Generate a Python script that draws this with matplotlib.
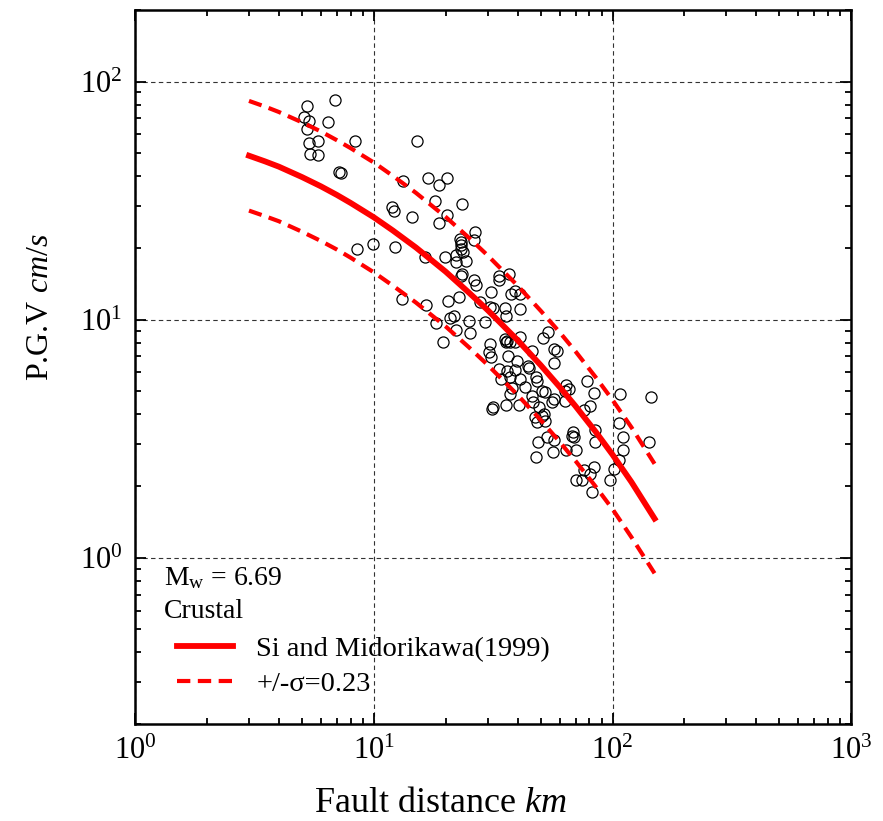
import matplotlib
matplotlib.use("Agg")
from matplotlib import pyplot as plt
from matplotlib.lines import Line2D

plt.rcParams['font.family'] = ['Liberation Serif', 'DejaVu Serif']
plt.rcParams['mathtext.fontset'] = 'custom'
plt.rcParams['mathtext.rm'] = 'Liberation Serif'
plt.rcParams['mathtext.it'] = 'Liberation Serif:italic'

# observed records: fault distance (km) and PGV (cm/s)
obs_dist = [5.23, 6.89, 5.11, 5.36, 6.41, 5.26, 5.35, 5.83, 8.31, 5.40, 5.83, 7.16, 7.31,
            15.2, 13.2, 11.9, 12.2, 14.5, 8.50, 9.92, 12.3,
            16.9, 18.7, 20.3, 18.1, 23.4, 20.2, 18.7, 26.6, 26.2, 23.0, 23.2, 23.3, 23.1,
            23.7, 22.1, 22.1, 19.95, 24.3, 16.4, 23.5, 23.2, 26.3, 26.8, 33.5, 33.6, 36.7,
            30.9, 37.4, 39.1, 40.8, 13.1, 16.6, 20.5, 22.7, 27.9, 30.7, 31.6, 35.5, 41.1,
            20.9, 21.7, 18.2, 25.0, 29.3, 35.9, 22.0, 25.2, 19.5, 30.7, 35.6, 36.3, 35.9,
            37.3, 39.1, 41.1, 30.5, 30.9, 36.6, 39.8, 46.1, 53.7, 51.2, 57.0, 58.6, 57.0,
            33.3, 36.1, 37.3, 39.1, 44.1, 44.5, 34.1, 41.1, 47.9, 48.3, 38.0, 43.2, 37.3,
            46.0, 50.7, 52.3, 56.7, 55.8, 64.1, 65.5, 63.4, 31.2, 31.7, 35.9, 40.7, 49.4,
            47.5, 50.7, 51.8, 52.3, 48.3, 68.3, 67.7, 68.7, 48.9, 53.2, 56.7, 56.1, 63.6,
            47.6, 78.2, 83.4, 107.2, 145.2, 80.8, 76.2, 63.4, 46.4, 84.2, 106.2, 110.8,
            84.5, 141.9, 70.4, 110.4, 106.2, 83.9, 76.2, 80.2, 101.2, 97.3, 70.6, 74.6, 82.1]
obs_pgv = [79.3, 83.8, 71.3, 68.1, 67.9, 62.9, 55.4, 56.5, 56.0, 49.5, 49.3, 41.6, 41.3,
           56.1, 38.1, 29.8, 28.7, 26.9, 19.8, 20.7, 20.2,
           39.2, 36.8, 39.4, 31.5, 30.6, 27.4, 25.5, 23.4, 21.7, 21.8, 21.1, 20.5, 19.8,
           19.2, 18.6, 17.4, 18.3, 17.6, 18.4, 15.6, 15.2, 14.7, 14.0, 15.2, 14.6, 15.6,
           13.0, 12.8, 13.2, 12.8, 12.2, 11.5, 12.0, 12.5, 11.8, 11.3, 11.2, 11.2, 11.1,
           10.2, 10.4, 9.69, 9.90, 9.74, 10.4, 9.05, 8.82, 8.08, 7.91, 8.30, 8.16, 8.03,
           8.03, 8.03, 8.43, 7.29, 6.94, 7.06, 6.73, 7.36, 8.91, 8.38, 7.53, 7.41, 6.60,
           6.21, 6.11, 5.76, 6.15, 6.41, 6.27, 5.63, 5.63, 5.72, 5.54, 5.16, 5.23, 4.87,
           4.79, 5.03, 4.95, 4.64, 4.49, 5.33, 5.12, 5.03, 4.22, 4.28, 4.39, 4.39, 4.28,
           3.89, 3.95, 4.02, 3.76, 3.70, 3.36, 3.26, 3.20, 3.05, 3.20, 3.12, 2.77, 2.84,
           2.64, 5.54, 4.90, 4.87, 4.72, 4.35, 4.17, 4.54, 4.49, 3.44, 3.68, 3.22,
           3.05, 3.07, 2.84, 2.84, 2.57, 2.40, 2.34, 2.25, 2.36, 2.12, 2.11, 2.11, 1.88]

# Si and Midorikawa (1999) curve and +/- sigma band
curve_dist = [3, 3.5, 4, 5, 6, 7, 8, 10, 12, 15, 20, 25, 30, 40, 50, 60, 70, 85, 100, 120, 150]
curve_mean = [48.8, 46.2, 43.9, 39.7, 36.3, 33.4, 30.9, 26.9, 23.7, 20.1, 15.9, 13.0, 10.96,
              8.20, 6.44, 5.22, 4.33, 3.38, 2.71, 2.08, 1.46]
curve_upper = [82.9, 78.5, 74.5, 67.4, 61.7, 56.7, 52.5, 45.7, 40.2, 34.1, 27.0, 22.1, 18.6,
               13.9, 10.9, 8.86, 7.35, 5.73, 4.60, 3.53, 2.48]
curve_lower = [28.7, 27.2, 25.9, 23.4, 21.4, 19.7, 18.2, 15.8, 13.9, 11.8, 9.36, 7.66, 6.45,
               4.83, 3.79, 3.07, 2.55, 1.99, 1.60, 1.22, 0.86]

fig = plt.figure(figsize=(8.83, 8.21), dpi=100)
ax = fig.add_axes([0.153, 0.118, 0.811, 0.870])

ax.plot(obs_dist, obs_pgv, linestyle='none', marker='o', markersize=8,
        markerfacecolor='none', markeredgecolor='black', markeredgewidth=0.9)
ax.plot(curve_dist, curve_mean, color='red', linewidth=4.2, solid_joinstyle='round')
ax.plot(curve_dist, curve_upper, color='red', linewidth=3, dashes=(3.2, 1.8))
ax.plot(curve_dist, curve_lower, color='red', linewidth=3, dashes=(3.2, 1.8))

ax.set_xscale('log')
ax.set_yscale('log')
ax.set_xlim(1, 1000)
ax.set_ylim(0.2, 200)

ax.grid(True, which='major', color='#333333', linestyle=(0, (4, 3)), linewidth=0.8)
ax.tick_params(which='both', direction='in', top=True, right=True, labelsize=22, width=1.3)
ax.tick_params(which='major', length=8, pad=9)
ax.tick_params(which='minor', length=4.5)
for sp in ax.spines.values():
    sp.set_linewidth(1.8)

ax.set_xlabel(r'Fault distance $km$', fontsize=26)
ax.xaxis.set_label_coords(0.427, -0.088)
ax.set_ylabel(r'P.G.V $cm/s$', fontsize=23)
ax.yaxis.set_label_coords(-0.112, 0.584)

ax.text(0.04, 0.204, r'M$_{\rm w}$ = 6.69', transform=ax.transAxes, fontsize=20,
        va='center', ha='left')
ax.text(0.04, 0.157, 'Crustal', transform=ax.transAxes, fontsize=20,
        va='center', ha='left')

handles = [Line2D([], [], color='red', linewidth=4.2),
           Line2D([], [], color='red', linewidth=3, dashes=(3.2, 1.8))]
ax.legend(handles, ['Si and Midorikawa(1999)', '+/-σ=0.23'], loc='lower left',
          bbox_to_anchor=(0.03, 0.01), frameon=False, fontsize=20.5, handlelength=2.0,
          handletextpad=0.8, labelspacing=0.32, borderaxespad=0.3)

fig.savefig('out.png', dpi=100)
